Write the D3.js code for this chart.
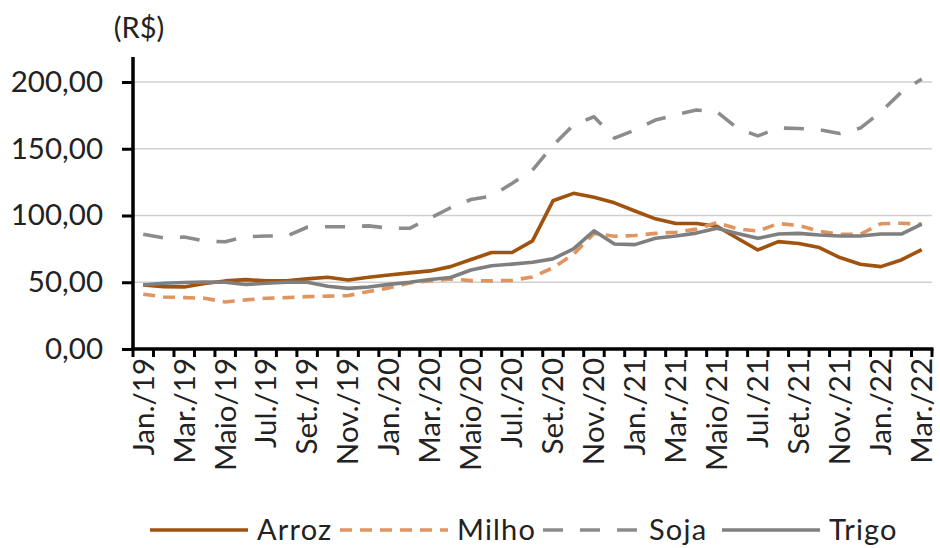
<!DOCTYPE html>
<html>
<head>
<meta charset="utf-8">
<script src="https://cdn.jsdelivr.net/npm/d3@7"></script>
<style>
  html, body { margin: 0; padding: 0; background: #fff; }
  svg { display: block; font-family: Lato, "Open Sans", sans-serif; }
</style>
</head>
<body>
<svg id="chart" width="940" height="548"></svg>
<script>
// Month labels (Jan./19 .. Mar./22)
const months = [
  "Jan./19","Fev./19","Mar./19","Abr./19","Maio/19","Jun./19","Jul./19","Ago./19","Set./19","Out./19","Nov./19","Dez./19",
  "Jan./20","Fev./20","Mar./20","Abr./20","Maio/20","Jun./20","Jul./20","Ago./20","Set./20","Out./20","Nov./20","Dez./20",
  "Jan./21","Fev./21","Mar./21","Abr./21","Maio/21","Jun./21","Jul./21","Ago./21","Set./21","Out./21","Nov./21","Dez./21",
  "Jan./22","Fev./22","Mar./22"
];

// Prices (R$)
const arroz = [48,46.7,46.5,49,51,52,51,51,52.5,53.7,51.7,53.7,
  55.4,57,58.5,61.7,67,72.3,72.3,81,111,116.6,113.6,109.5,
  103.4,97.5,94,94,92,83,74.2,80.4,79,76,68.5,63.5,
  61.7,66.7,74.5];
const milho = [41,39,38.5,38,35.2,36.8,38,38.5,39.2,39.6,40,43,
  45.8,49.5,51,52.5,51.2,51,51.4,54,60.8,71,86.6,84.5,
  85,86.6,87.5,89.8,94.7,90,88.3,94,92.5,88.2,86,86,
  93.8,94.2,93.5];
const soja = [86,83.2,83.9,80.8,80.3,84.1,84.6,84.6,91.2,91.6,91.6,92.2,
  90.5,90.4,98,105.8,112,114.5,124,134,152.5,167.8,174,158,
  164,171.5,175.5,179,177.8,165.3,159.6,165.5,165.2,164.2,161.5,165.5,
  177.5,192.3,202.3];
const trigo = [48,49.2,49.8,50.2,50,48.3,49.2,50,50,47,45.4,46.5,
  48.4,50,52,53.6,59.2,62.3,63.6,65,67.5,75,88.5,78.6,
  78.2,82.9,84.6,86.8,90.4,86.6,82.9,86.1,86.6,85.4,84.6,84.6,
  86.1,86.1,93.6];

const yTicks = [0, 50, 100, 150, 200];
const seriesNames = ["Arroz", "Milho", "Soja", "Trigo"];

const series = [
  { name: seriesNames[0], values: arroz, color: "#a0520f", dash: null },
  { name: seriesNames[1], values: milho, color: "#e09560", dash: "12 8" },
  { name: seriesNames[2], values: soja,  color: "#8c8c8c", dash: "20 17" },
  { name: seriesNames[3], values: trigo, color: "#7f7f7f", dash: null }
];

const svg = d3.select("#chart");
const plotLeft = 133, plotRight = 932, plotTop = 82, plotBottom = 349;

const x = d3.scaleBand().domain(months).range([plotLeft, plotRight]).padding(0);
const y = d3.scaleLinear().domain([0, 200]).range([plotBottom, plotTop]);
const fmt = v => d3.format(".2f")(v).replace(".", ",");

// Horizontal gridlines
svg.append("g")
  .selectAll("line")
  .data(yTicks.filter(d => d > 0))
  .join("line")
  .attr("x1", plotLeft).attr("x2", plotRight)
  .attr("y1", d => y(d)).attr("y2", d => y(d))
  .attr("stroke", "#d0d0d0").attr("stroke-width", 1.5);

// Series lines
const line = d3.line()
  .x((d, i) => x(months[i]) + x.bandwidth() / 2)
  .y(d => y(d));

svg.append("g")
  .selectAll("path")
  .data(series)
  .join("path")
  .attr("d", d => line(d.values))
  .attr("fill", "none")
  .attr("stroke", d => d.color)
  .attr("stroke-width", 3.6)
  .attr("stroke-linejoin", "round")
  .attr("stroke-dasharray", d => d.dash);

// Y axis
const yAxis = d3.axisLeft(y).tickValues(yTicks).tickFormat(fmt).tickSize(11).tickPadding(19);
const gy = svg.append("g").attr("transform", `translate(${plotLeft},0)`).call(yAxis);
gy.attr("font-family", null).attr("font-size", null);
gy.select(".domain").remove();
gy.selectAll(".tick line").attr("stroke", "#000").attr("stroke-width", 3);
gy.selectAll(".tick text").attr("fill", "#222").style("font-size", "29.5px");
svg.append("line")
  .attr("x1", plotLeft).attr("x2", plotLeft)
  .attr("y1", 57).attr("y2", plotBottom + 1.5)
  .attr("stroke", "#000").attr("stroke-width", 3.5);

// X axis: ticks at month boundaries, labels every other month
const gx = svg.append("g").attr("transform", `translate(0,${plotBottom})`);
gx.append("line")
  .attr("x1", plotLeft - 1.5).attr("x2", plotRight + 1.5)
  .attr("y1", 0).attr("y2", 0)
  .attr("stroke", "#000").attr("stroke-width", 3.5);
const bounds = months.map(m => x(m)).concat([plotRight]);
gx.selectAll("line.tk")
  .data(bounds)
  .join("line")
  .attr("class", "tk")
  .attr("x1", d => d).attr("x2", d => d)
  .attr("y1", 0).attr("y2", 8)
  .attr("stroke", "#000").attr("stroke-width", 3);
gx.selectAll("text")
  .data(months.filter((m, i) => i % 2 === 0))
  .join("text")
  .attr("transform", d => `translate(${x(d) + x.bandwidth() / 2},${9}) rotate(-90)`)
  .attr("text-anchor", "end")
  .attr("dy", "0.35em")
  .attr("fill", "#222")
  .style("font-size", "29.5px")
  .text(d => d);

// Unit label
svg.append("text")
  .attr("x", 139).attr("y", 38)
  .attr("text-anchor", "middle")
  .attr("fill", "#222")
  .style("font-size", "29px")
  .text("(R$)");

// Legend: sample line followed by its label, in one row
const legendStart = [150, 340, 543, 722];
const legendLen = [98, 108, 97, 98];
const lg = svg.append("g").attr("transform", "translate(0,530)");
series.forEach((s, i) => {
  const x0 = legendStart[i];
  lg.append("line")
    .attr("x1", x0).attr("x2", x0 + legendLen[i])
    .attr("y1", 0).attr("y2", 0)
    .attr("stroke", s.color).attr("stroke-width", 3.6)
    .attr("stroke-dasharray", s.dash);
  lg.append("text")
    .attr("x", x0 + legendLen[i] + 9).attr("y", 0)
    .attr("dy", "0.35em")
    .attr("fill", "#222")
    .style("font-size", "29px")
    .style("letter-spacing", "1.2px")
    .text(s.name);
});
</script>
</body>
</html>
